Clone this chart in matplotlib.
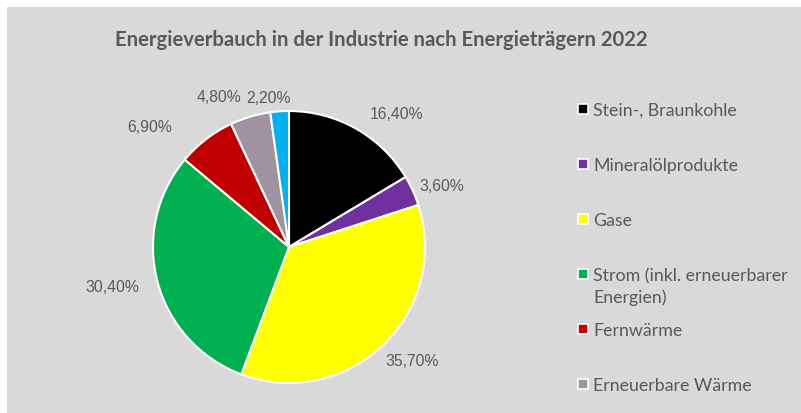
import numpy as np
import matplotlib.pyplot as plt
from matplotlib.patches import Rectangle

# data
categories = ["Stein-, Braunkohle", "Mineralölprodukte", "Gase",
              "Strom (inkl. erneuerbarer\nEnergien)", "Fernwärme",
              "Erneuerbare Wärme", "Sonstige"]
shares = [16.4, 3.6, 35.7, 30.4, 6.9, 4.8, 2.2]
colors = ["#000000", "#7030a0", "#ffff00", "#00b050", "#c00000",
          "#a0929f", "#00b0f0"]
legend_count = 6  # the last entry is cut off in the original

title = "Energieverbauch in der Industrie nach Energieträgern 2022"
bg = "#d9d9d9"
txt_gray = "#595959"

# small hand nudges (pixels) for the data labels, excel moved some of them
label_nudge = [(10, 2), (0, -5), (-2, -3), (-12, 4), (-30, 0), (-7, 6), (-11, 0)]

W, H = 801, 414


def do_plot():
    fig = plt.figure(figsize=(W / 100, H / 100), dpi=100)
    fig.patch.set_facecolor("white")
    fig.patches.append(Rectangle((7 / W, 0), 1, 1 - 8 / H, transform=fig.transFigure,
                                 facecolor=bg, edgecolor="none", zorder=-10))

    fig.text(381 / W, 1 - 40 / H, title, ha="center", va="center",
             fontsize=14.6, fontweight="bold", color=txt_gray, family=["Lato", "DejaVu Sans"])

    # pie, center (289, 248) px, radius 136 px
    cx, cy, r = 289, 248, 136
    ax = fig.add_axes([(cx - r) / W, (H - cy - r) / H, 2 * r / W, 2 * r / H])
    wedges, _ = ax.pie(shares, colors=colors, startangle=90, counterclock=False,
                       wedgeprops=dict(edgecolor="white", linewidth=1.5))
    ax.set_xlim(-1, 1)
    ax.set_ylim(-1, 1)
    ax.set_aspect("equal")
    ax.axis("off")

    # labels placed outside end, like a spreadsheet chart
    for w, val, (nx, ny) in zip(wedges, shares, label_nudge):
        ang = np.deg2rad((w.theta1 + w.theta2) / 2)
        c, s = np.cos(ang), np.sin(ang)
        x, y = 1.05 * c + nx / r, 1.05 * s + ny / r
        ha = "left" if c > 0.1 else ("right" if c < -0.1 else "center")
        va = "bottom" if s > 0.1 else ("top" if s < -0.1 else "center")
        lab = ("%.2f%%" % val).replace(".", ",")
        ax.text(x, y, lab, ha=ha, va=va, fontsize=11.3, color=txt_gray,
                family=["Liberation Sans", "DejaVu Sans"], clip_on=False)

    # legend drawn by hand to keep fixed row spacing
    for i in range(legend_count):
        yc = 110 + i * 55
        fig.patches.append(Rectangle((578 / W, 1 - (yc + 5) / H), 10 / W, 10 / H,
                                     transform=fig.transFigure, facecolor=colors[i],
                                     edgecolor="white", linewidth=1.2))
        for j, line in enumerate(categories[i].split("\n")):
            fig.text(593 / W, 1 - (yc + 6 + j * 22) / H, line, ha="left", va="baseline",
                     fontsize=12.8, color=txt_gray, family=["Lato", "DejaVu Sans"])

    plt.savefig("out.png", dpi=100, facecolor=fig.get_facecolor())


if __name__ == "__main__":
    do_plot()
